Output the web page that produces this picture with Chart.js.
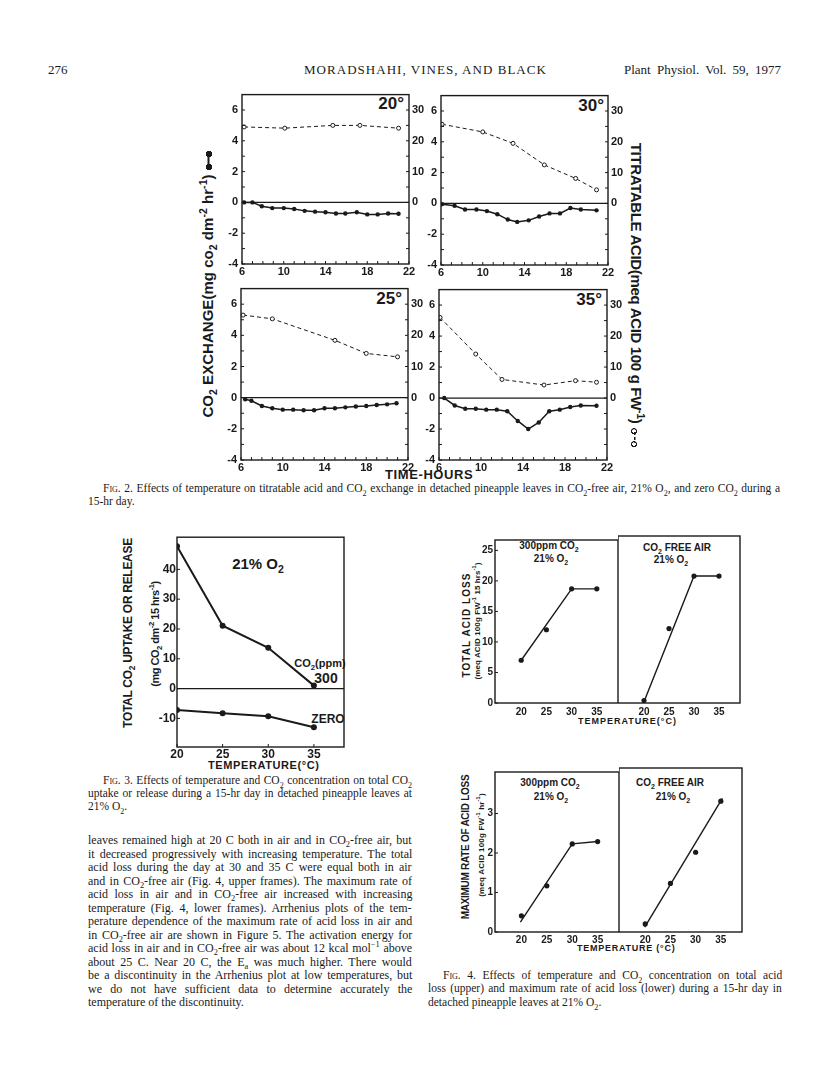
<!DOCTYPE html>
<html>
<head>
<meta charset="utf-8">
<script src="https://cdn.jsdelivr.net/npm/chart.js@4.4.0/dist/chart.umd.min.js"></script>
<style>
    body { margin: 0; background: #fff; }
    #page { position: relative; width: 816px; height: 1079px; overflow: hidden; background: #fff; color: #1a1a1a; }
    #page canvas { position: absolute; }
    .t { position: absolute; white-space: nowrap; line-height: 1; transform: translateY(-50%); }
    .c { transform: translate(-50%, -50%); }
    .r { transform: translate(-100%, -50%); }
    .up { transform: translate(-50%, -50%) rotate(-90deg); }
    .down { transform: translate(-50%, -50%) rotate(90deg); }
    .serif { font-family: "Liberation Serif", "Times New Roman", serif; }
    .sans { font-family: "Liberation Sans", Arial, sans-serif; font-weight: bold; }
    .narrow { font-family: "Liberation Sans Narrow", "Liberation Sans", sans-serif; font-weight: bold; }
    sub, sup { font-size: 0.7em; line-height: 0; }
    .sc { font-variant: small-caps; }
    .dumb, .dsym { display: inline-block; width: 20px; height: 7px; margin-left: 4px; vertical-align: middle; }
    .dumb {
        background:
            radial-gradient(circle, #1a1a1a 3px, transparent 3.5px) left center / 7px 7px no-repeat,
            radial-gradient(circle, #1a1a1a 3px, transparent 3.5px) right center / 7px 7px no-repeat,
            linear-gradient(#1a1a1a, #1a1a1a) center / 14px 2px no-repeat;
    }
    .dsym {
        background:
            radial-gradient(circle, transparent 1.6px, #1a1a1a 2px, #1a1a1a 2.8px, transparent 3.2px) left center / 7px 7px no-repeat,
            radial-gradient(circle, transparent 1.6px, #1a1a1a 2px, #1a1a1a 2.8px, transparent 3.2px) right center / 7px 7px no-repeat,
            repeating-linear-gradient(90deg, #1a1a1a 0 3px, transparent 3px 5px) center / 11px 1.5px no-repeat;
    }
</style>
</head>
<body>
<div id="page">
    <!-- running head -->
    <div class="t serif" style="left:48px;top:69px;font-size:13px">276</div>
    <div class="t serif" data-w="243" data-m="l" style="left:304px;top:69px;font-size:13px">MORADSHAHI, VINES, AND BLACK</div>
    <div class="t serif" data-w="157" data-m="w" style="left:624px;top:69px;font-size:13px">Plant Physiol. Vol. 59, 1977</div>

    <!-- fig 2 labels -->
    <div class="t sans up" data-w="267" data-m="l" style="left:207px;top:284px;font-size:15px">CO<sub>2</sub> EXCHANGE(mg co<sub>2</sub> dm<sup>-2</sup> hr<sup>-1</sup>)<span class="dumb"></span></div>
    <div class="t sans down" data-w="305" data-m="l" style="left:636px;top:295px;font-size:15px">TITRATABLE ACID(meq ACID 100 g FW<sup>-1</sup>)<span class="dsym"></span></div>
    <div class="t sans" data-w="88" data-m="l" style="left:385px;top:474px;font-size:13px">TIME-HOURS</div>
    <div class="t sans r" style="left:404px;top:103px;font-size:17px">20°</div>
    <div class="t sans r" style="left:604px;top:105px;font-size:17px">30°</div>
    <div class="t sans r" style="left:402px;top:298px;font-size:17px">25°</div>
    <div class="t sans r" style="left:602px;top:299px;font-size:17px">35°</div>

    <div class="t serif" data-w="677" data-m="w" style="left:103px;top:489px;font-size:11.5px"><span class="sc">Fig.</span> 2. Effects of temperature on titratable acid and CO<sub>2</sub> exchange in detached pineapple leaves in CO<sub>2</sub>-free air, 21% O<sub>2</sub>, and zero CO<sub>2</sub> during a</div>
    <div class="t serif" style="left:88px;top:502px;font-size:11.5px">15-hr day.</div>

    <!-- fig 3 labels -->
    <div class="t narrow up" data-w="190" data-m="l" style="left:128px;top:633px;font-size:12px">TOTAL CO<sub>2</sub> UPTAKE OR RELEASE</div>
    <div class="t narrow up" data-w="105" data-m="l" style="left:155px;top:634px;font-size:11px">(mg CO<sub>2</sub> dm<sup>-2</sup> 15 hrs<sup>-1</sup>)</div>
    <div class="t sans" data-w="112" data-m="l" style="left:208px;top:765px;font-size:11px">TEMPERATURE(°C)</div>
    <div class="t sans c" style="left:258px;top:563px;font-size:15px">21% O<sub>2</sub></div>
    <div class="t sans c" style="left:320px;top:663px;font-size:11px">CO<sub>2</sub>(ppm)</div>
    <div class="t sans c" style="left:326px;top:678px;font-size:14px">300</div>
    <div class="t sans c" style="left:328px;top:719px;font-size:12px">ZERO</div>

    <div class="t serif" data-w="309" data-m="w" style="left:103px;top:781px;font-size:11.5px"><span class="sc">Fig.</span> 3. Effects of temperature and CO<sub>2</sub> concentration on total CO<sub>2</sub></div>
    <div class="t serif" data-w="324" data-m="w" style="left:88px;top:794px;font-size:11.5px">uptake or release during a 15-hr day in detached pineapple leaves at</div>
    <div class="t serif" style="left:88px;top:807px;font-size:11.5px">21% O<sub>2</sub>.</div>

    <!-- body text -->
    <div class="t serif" data-w="324" data-m="w" style="left:88px;top:840px;font-size:12px">leaves remained high at 20 C both in air and in CO<sub>2</sub>-free air, but</div>
    <div class="t serif" data-w="324" data-m="w" style="left:88px;top:853.5px;font-size:12px">it decreased progressively with increasing temperature. The total</div>
    <div class="t serif" data-w="324" data-m="w" style="left:88px;top:867px;font-size:12px">acid loss during the day at 30 and 35 C were equal both in air</div>
    <div class="t serif" data-w="324" data-m="w" style="left:88px;top:880.5px;font-size:12px">and in CO<sub>2</sub>-free air (Fig. 4, upper frames). The maximum rate of</div>
    <div class="t serif" data-w="324" data-m="w" style="left:88px;top:894px;font-size:12px">acid loss in air and in CO<sub>2</sub>-free air increased with increasing</div>
    <div class="t serif" data-w="324" data-m="w" style="left:88px;top:907.5px;font-size:12px">temperature (Fig. 4, lower frames). Arrhenius plots of the tem-</div>
    <div class="t serif" data-w="324" data-m="w" style="left:88px;top:921px;font-size:12px">perature dependence of the maximum rate of acid loss in air and</div>
    <div class="t serif" data-w="324" data-m="w" style="left:88px;top:934.5px;font-size:12px">in CO<sub>2</sub>-free air are shown in Figure 5. The activation energy for</div>
    <div class="t serif" data-w="324" data-m="w" style="left:88px;top:948px;font-size:12px">acid loss in air and in CO<sub>2</sub>-free air was about 12 kcal mol<sup>−1</sup> above</div>
    <div class="t serif" data-w="324" data-m="w" style="left:88px;top:961.5px;font-size:12px">about 25 C. Near 20 C, the E<sub>a</sub> was much higher. There would</div>
    <div class="t serif" data-w="324" data-m="w" style="left:88px;top:975px;font-size:12px">be a discontinuity in the Arrhenius plot at low temperatures, but</div>
    <div class="t serif" data-w="324" data-m="w" style="left:88px;top:988.5px;font-size:12px">we do not have sufficient data to determine accurately the</div>
    <div class="t serif" style="left:88px;top:1002px;font-size:12px">temperature of the discontinuity.</div>

    <!-- fig 4 labels -->
    <div class="t narrow up" data-w="105" data-m="l" style="left:467px;top:625px;font-size:10px">TOTAL ACID LOSS</div>
    <div class="t narrow up" data-w="117" data-m="l" style="left:478px;top:621px;font-size:8px">(meq ACID 100g FW<sup>-1</sup> 15 hrs<sup>-1</sup>)</div>
    <div class="t sans" data-w="99" data-m="l" style="left:578px;top:721px;font-size:9px">TEMPERATURE(°C)</div>
    <div class="t sans c" style="left:549px;top:546px;font-size:10px">300ppm CO<sub>2</sub></div>
    <div class="t sans c" style="left:551px;top:559px;font-size:10px">21% O<sub>2</sub></div>
    <div class="t sans c" style="left:677px;top:548px;font-size:10px">CO<sub>2</sub> FREE AIR</div>
    <div class="t sans c" style="left:671px;top:560px;font-size:10px">21% O<sub>2</sub></div>

    <div class="t narrow up" data-w="145" data-m="l" style="left:466px;top:847px;font-size:10px">MAXIMUM RATE OF ACID LOSS</div>
    <div class="t narrow up" data-w="104" data-m="l" style="left:482px;top:845px;font-size:8px">(meq ACID 100g FW<sup>-1</sup> hr<sup>-1</sup>)</div>
    <div class="t sans" data-w="98" data-m="l" style="left:577px;top:948px;font-size:9px">TEMPERATURE (°C)</div>
    <div class="t sans c" style="left:550px;top:783px;font-size:10px">300ppm CO<sub>2</sub></div>
    <div class="t sans c" style="left:551px;top:797px;font-size:10px">21% O<sub>2</sub></div>
    <div class="t sans c" style="left:670px;top:783px;font-size:10px">CO<sub>2</sub> FREE AIR</div>
    <div class="t sans c" style="left:673px;top:797px;font-size:10px">21% O<sub>2</sub></div>

    <div class="t serif" data-w="339" data-m="w" style="left:443px;top:976px;font-size:11.5px"><span class="sc">Fig.</span> 4. Effects of temperature and CO<sub>2</sub> concentration on total acid</div>
    <div class="t serif" data-w="354" data-m="w" style="left:428px;top:989px;font-size:11.5px">loss (upper) and maximum rate of acid loss (lower) during a 15-hr day in</div>
    <div class="t serif" style="left:428px;top:1003px;font-size:11.5px">detached pineapple leaves at 21% O<sub>2</sub>.</div>
</div>

<script>
// ---- Fig. 2 : CO2 exchange (left axis) and titratable acid (right axis) ----
const hours20 = [6.2, 7, 7.9, 8.9, 10, 11, 12, 13, 14, 15, 15.9, 17, 18, 19, 20, 21];
const co2At20 = [0, 0, -0.25, -0.37, -0.37, -0.43, -0.55, -0.6, -0.64, -0.72, -0.72, -0.64, -0.78, -0.78, -0.72, -0.74];
const acidHours20 = [6.2, 10.1, 14.7, 17.3, 21];
const acidAt20 = [24.5, 24.1, 25.0, 25.0, 24.1];

const hours30 = [6.1, 7.3, 8.3, 9.4, 10.4, 11.4, 12.4, 13.3, 14.4, 15.4, 16.4, 17.4, 18.4, 19.4, 20.9];
const co2At30 = [-0.05, -0.15, -0.4, -0.4, -0.5, -0.7, -1.05, -1.2, -1.1, -0.85, -0.65, -0.65, -0.3, -0.4, -0.45];
const acidHours30 = [6.1, 10.0, 12.9, 15.9, 18.9, 20.9];
const acidAt30 = [25.7, 23.2, 19.5, 12.5, 8.1, 4.4];

const hours25 = [6.4, 7, 8, 9, 10, 11, 12, 13, 14, 15, 16, 17, 18, 19, 20, 20.9];
const co2At25 = [-0.1, -0.2, -0.53, -0.68, -0.77, -0.77, -0.81, -0.81, -0.68, -0.68, -0.62, -0.57, -0.53, -0.47, -0.43, -0.36];
const acidHours25 = [6.2, 9.0, 15.0, 18.0, 21.0];
const acidAt25 = [26.5, 25.3, 18.4, 14.2, 13.1];

const hours35 = [6.5, 7.5, 8.5, 9.5, 10.5, 11.5, 12.5, 13.5, 14.5, 15.5, 16.5, 17.5, 18.5, 19.5, 21];
const co2At35 = [0, -0.48, -0.69, -0.69, -0.75, -0.75, -0.85, -1.48, -2.0, -1.58, -0.85, -0.75, -0.58, -0.48, -0.5];
const acidHours35 = [6.1, 9.5, 12.0, 16.0, 19.0, 21.0];
const acidAt35 = [26.0, 14.2, 6.0, 4.2, 5.6, 5.1];

const hourLabels = [6, 10, 14, 18, 22];
const hourMarks = [6, 7, 8, 9, 10, 11, 12, 13, 14, 15, 16, 17, 18, 19, 20, 21, 22];
const co2Labels = [-4, -2, 0, 2, 4, 6];
const co2Marks = [-4, -3, -2, -1, 0, 1, 2, 3, 4, 5, 6];
const acidLabels = [0, 10, 20, 30];
const acidMarks = [-15, -10, -5, 0, 5, 10, 15, 20, 25, 30];

// ---- Fig. 3 : total CO2 uptake or release ----
const temps = [20, 25, 30, 35];
const uptake300 = [47.8, 21.1, 13.7, 1.0];
const uptakeZero = [-7.2, -8.3, -9.3, -13.0];
const uptakeLabels = [-10, 0, 10, 20, 30, 40];

// ---- Fig. 4 : total acid loss and max rate of acid loss ----
const lossAir = [7.0, 12.0, 18.7, 18.7];
const lossFree = [0.4, 11.9, 20.3, 20.3];
const lossAirFitT = [20, 30, 35];
const lossAirFit = [7.0, 18.7, 18.7];
const lossFreeFitT = [20, 30, 35];
const lossFreeFit = [0.2, 20.3, 20.3];
const lossLabels = [0, 5, 10, 15, 20, 25];

const rateAir = [0.41, 1.17, 2.23, 2.29];
const rateFree = [0.2, 1.2, 1.97, 3.23];
const rateAirFitT = [19.8, 30, 35];
const rateAirFit = [0.25, 2.23, 2.29];
const rateFreeFitT = [19.9, 35.3];
const rateFreeFit = [0.12, 3.3];
const rateLabels = [0, 1, 2, 3];

const INK = "#1a1a1a";
const page = document.getElementById("page");

Chart.defaults.font.family = '"Liberation Sans", Arial, sans-serif';
Chart.defaults.color = INK;
Chart.defaults.animation = false;
Chart.defaults.layout.autoPadding = false;
Chart.defaults.plugins.legend.display = false;
Chart.defaults.plugins.tooltip.enabled = false;

// box around the plot area, zero line, little inside ticks
Chart.register({
    id: "frame",
    afterDatasetsDraw: function (chart, args, o) {
        var ctx = chart.ctx, a = chart.chartArea;
        ctx.save();
        ctx.strokeStyle = INK;
        ctx.lineWidth = o.width || 1.4;
        ctx.strokeRect(a.left, a.top, a.right - a.left, a.bottom - a.top);
        if (o.zero) {
            var y0 = chart.scales.y.getPixelForValue(0);
            ctx.lineWidth = o.zero;
            ctx.beginPath();
            ctx.moveTo(a.left, y0);
            ctx.lineTo(a.right, y0);
            ctx.stroke();
        }
        ctx.lineWidth = 1;
        (o.marks || []).forEach(function (m) {
            var s = chart.scales[m.axis];
            m.at.forEach(function (v) {
                var p = s.getPixelForValue(v);
                ctx.beginPath();
                if (m.axis === "x") {
                    ctx.moveTo(p, a.bottom);
                    ctx.lineTo(p, a.bottom - m.len);
                } else if (m.side === "right") {
                    ctx.moveTo(a.right, p);
                    ctx.lineTo(a.right - m.len, p);
                } else {
                    ctx.moveTo(a.left, p);
                    ctx.lineTo(a.left + m.len, p);
                }
                ctx.stroke();
            });
        });
        ctx.restore();
    },
});

function makeCanvas(box, pad) {
    var c = document.createElement("canvas");
    c.width = box.r - box.l + pad.l + pad.r;
    c.height = box.b - box.t + pad.t + pad.b;
    c.style.left = box.l - pad.l + "px";
    c.style.top = box.t - pad.t + "px";
    page.appendChild(c);
    return c;
}

function pts(xs, ys) {
    return xs.map(function (x, i) {
        return { x: x, y: ys[i] };
    });
}

function scale(o) {
    return {
        type: "linear",
        display: o.display !== false,
        position: o.position,
        min: o.min,
        max: o.max,
        grid: { display: false, drawTicks: false },
        border: { display: false },
        afterBuildTicks: function (s) {
            s.ticks = o.labels.map(function (v) {
                return { value: v };
            });
        },
        afterFit: function (s) {
            if (s.isHorizontal()) s.height = o.size;
            else s.width = o.size;
        },
        ticks: {
            font: { size: o.font, weight: "bold" },
            color: INK,
            padding: o.pad,
            maxRotation: 0,
            autoSkip: false,
            callback: function (v) {
                return String(v);
            },
        },
    };
}

function solid(data, w, r) {
    return { data: data, borderColor: INK, borderWidth: w, pointRadius: r, pointBackgroundColor: INK, pointBorderWidth: 0, fill: false };
}

function fig2Panel(box, hours, co2, acidHours, acid) {
    var pad = { l: 30, r: 30, t: 4, b: 16 };
    var c = makeCanvas(box, pad);
    var acidSet = {
        data: pts(acidHours, acid),
        yAxisID: "y2",
        borderColor: INK,
        borderWidth: 1,
        borderDash: [4, 3],
        pointRadius: 2,
        pointBackgroundColor: "#fff",
        pointBorderColor: INK,
        pointBorderWidth: 1,
        fill: false,
    };
    new Chart(c, {
        type: "line",
        data: { datasets: [solid(pts(hours, co2), 1.5, 2.2), acidSet] },
        options: {
            responsive: false,
            events: [],
            layout: { padding: { top: pad.t, left: 0, right: 0, bottom: 0 } },
            scales: {
                x: scale({ position: "bottom", min: 6, max: 22, labels: hourLabels, size: pad.b, font: 11, pad: 1 }),
                y: scale({ position: "left", min: -4, max: 7, labels: co2Labels, size: pad.l, font: 11, pad: 4 }),
                y2: scale({ position: "right", min: -20, max: 35, labels: acidLabels, size: pad.r, font: 11, pad: 3 }),
            },
            plugins: {
                frame: {
                    zero: 1.3,
                    marks: [
                        { axis: "x", at: hourMarks, len: 3 },
                        { axis: "y", at: co2Marks, len: 3 },
                        { axis: "y2", side: "right", at: acidMarks, len: 3 },
                    ],
                },
            },
        },
    });
}

fig2Panel({ l: 242, t: 88, r: 409, b: 264 }, hours20, co2At20, acidHours20, acidAt20);
fig2Panel({ l: 441, t: 89, r: 608, b: 265 }, hours30, co2At30, acidHours30, acidAt30);
fig2Panel({ l: 241, t: 282, r: 408, b: 460 }, hours25, co2At25, acidHours25, acidAt25);
fig2Panel({ l: 439, t: 283, r: 607, b: 460 }, hours35, co2At35, acidHours35, acidAt35);

// Fig. 3
(function () {
    var box = { l: 177, t: 533, r: 344, b: 747 };
    var pad = { l: 30, r: 4, t: 4, b: 16 };
    var c = makeCanvas(box, pad);
    new Chart(c, {
        type: "line",
        data: { datasets: [solid(pts(temps, uptake300), 2, 3), solid(pts(temps, uptakeZero), 2, 3)] },
        options: {
            responsive: false,
            events: [],
            layout: { padding: { top: pad.t, left: 0, right: pad.r, bottom: 0 } },
            scales: {
                x: scale({ position: "bottom", min: 20, max: 38.3, labels: temps, size: pad.b, font: 12, pad: 0 }),
                y: scale({ position: "left", min: -19.6, max: 50.8, labels: uptakeLabels, size: pad.l, font: 12, pad: 1 }),
            },
            plugins: {
                frame: {
                    zero: 1.3,
                    marks: [
                        { axis: "x", at: temps, len: 3 },
                        { axis: "y", at: uptakeLabels, len: 3 },
                    ],
                },
            },
        },
    });
})();

// Fig. 4 frames
function fig4Panel(box, showY, yMax, yLabels, fitT, fit, marks, xPad) {
    var pad = { l: showY ? 26 : 0, r: showY ? 0 : 4, t: 4, b: 14 };
    var c = makeCanvas(box, pad);
    var markSet = solid(pts(temps, marks), 0, 2.6);
    markSet.showLine = false;
    new Chart(c, {
        type: "line",
        data: { datasets: [solid(pts(fitT, fit), 1.4, 0), markSet] },
        options: {
            responsive: false,
            events: [],
            layout: { padding: { top: pad.t, left: 0, right: pad.r, bottom: 0 } },
            scales: {
                x: scale({ position: "bottom", min: 14.8, max: 39.2, labels: temps, size: pad.b, font: 10, pad: xPad }),
                y: scale({ display: showY, position: "left", min: 0, max: yMax, labels: yLabels, size: pad.l, font: 10, pad: 2 }),
            },
            plugins: {
                frame: { marks: showY ? [{ axis: "y", at: yLabels, len: 3 }] : [] },
            },
        },
    });
}

fig4Panel({ l: 495, t: 536, r: 618, b: 703 }, true, 26.7, lossLabels, lossAirFitT, lossAirFit, lossAir, 3);
fig4Panel({ l: 618, t: 536, r: 740, b: 703 }, false, 26.7, lossLabels, lossFreeFitT, lossFreeFit, lossFree, 3);
fig4Panel({ l: 495, t: 768, r: 619, b: 932 }, true, 4.05, rateLabels, rateAirFitT, rateAirFit, rateAir, 2);
fig4Panel({ l: 619, t: 768, r: 742, b: 932 }, false, 4.05, rateLabels, rateFreeFitT, rateFreeFit, rateFree, 2);

// stretch text lines to the measured widths
function fitText() {
    document.querySelectorAll("[data-w]").forEach(function (el) {
        el.style.letterSpacing = "0px";
        el.style.wordSpacing = "0px";
        var extra = +el.dataset.w - el.offsetWidth;
        if (el.dataset.m === "l") {
            el.style.letterSpacing = extra / el.textContent.length + "px";
        } else {
            var n = (el.textContent.match(/ /g) || []).length || 1;
            el.style.wordSpacing = extra / n + "px";
        }
    });
}
fitText();
if (document.fonts) document.fonts.ready.then(fitText);
</script>
</body>
</html>
